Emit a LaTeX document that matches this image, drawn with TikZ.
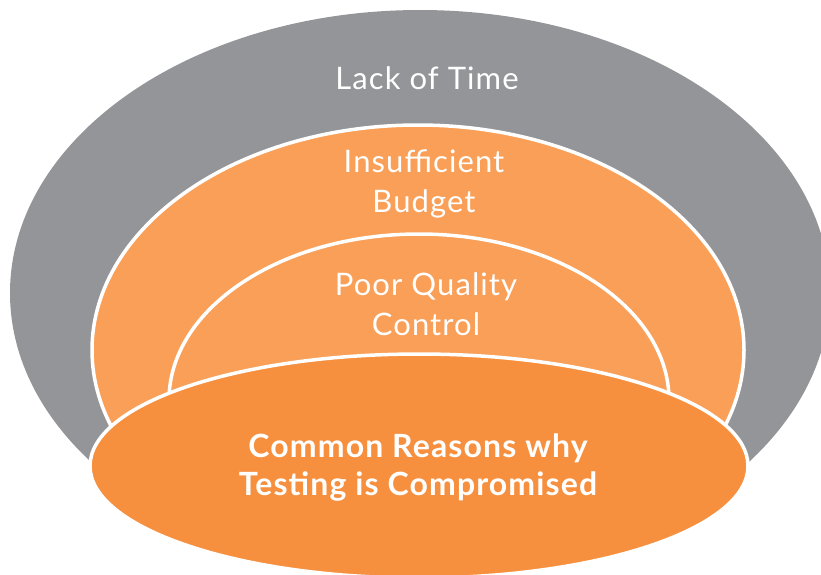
\documentclass[tikz,border=0pt]{standalone}
\usepackage{fontspec}
\setmainfont{Lato}[LetterSpace=3.5]

\definecolor{timegray}{HTML}{949598}
\definecolor{budgetorange}{HTML}{F99F58}
\definecolor{coreorange}{HTML}{F6903F}

\tikzset{
	ring/.style={draw=white, line width=3.5pt},
	ringtext/.style={text=white, align=center, inner sep=0pt, font=\fontsize{31}{40}\selectfont},
	coretext/.style={text=white, align=center, inner sep=0pt, font=\bfseries\fontsize{32}{38}\selectfont}
}

\begin{document}
\begin{tikzpicture}[x=1pt,y=-1pt]
		%frame
		\useasboundingbox (0,0) rectangle (821,574);
		\clip (0,0) rectangle (821,574);
		
		%rings
		\fill[timegray] (420,293) ellipse [x radius=410, y radius=283];
		\filldraw[ring, fill=budgetorange] (418,350) ellipse [x radius=326, y radius=225];
		\filldraw[ring, fill=budgetorange] (419,400) ellipse [x radius=250, y radius=166];
		\filldraw[ring, fill=coreorange] (419,466) ellipse [x radius=329, y radius=112];
		
		%labels
		\node[ringtext] (time) at (427,78) {Lack of Time};
		\node[ringtext] (budget) at (424,184) {Insufficient\\Budget};
		\node[ringtext] (quality) at (426,304) {Poor Quality\\Control};
		\node[coretext] (reasons) at (418,467) {Common Reasons why\\Testing is Compromised};
\end{tikzpicture}
\end{document}
